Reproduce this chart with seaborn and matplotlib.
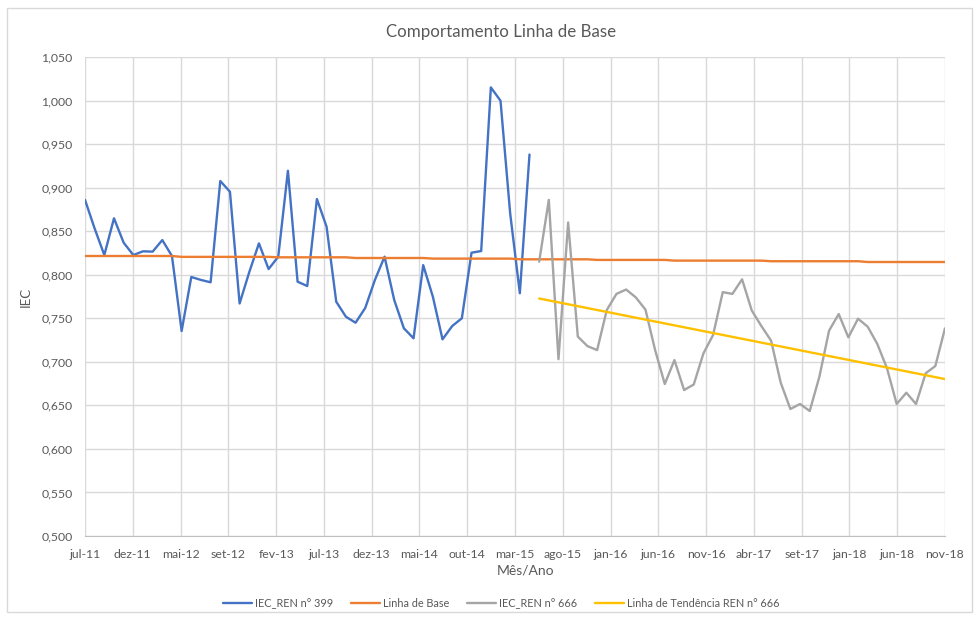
import numpy as np
import pandas as pd
import seaborn as sns
import matplotlib.pyplot as plt
from matplotlib.patches import Rectangle
from matplotlib.ticker import FuncFormatter

# Values (one value per month slot)
iec_399 = [0.886, 0.853, 0.8226, 0.8648, 0.8368, 0.8226, 0.8269, 0.8265, 0.8398, 0.8215,
           0.7354, 0.7974, 0.794, 0.7913, 0.9076, 0.8953, 0.767, 0.803, 0.836, 0.8065,
           0.8207, 0.9194, 0.792, 0.787, 0.8869, 0.8551, 0.769, 0.7518, 0.7449, 0.7618,
           0.7939, 0.8207, 0.771, 0.7385, 0.727, 0.811, 0.7748, 0.7258, 0.7411, 0.750,
           0.8253, 0.8272, 1.0151, 0.9998, 0.8705, 0.7787, 0.938]

iec_666 = [0.815, 0.886, 0.703, 0.860, 0.729, 0.718, 0.7135, 0.7595, 0.778, 0.783,
           0.774, 0.760, 0.7135, 0.6745, 0.702, 0.6676, 0.674, 0.7097, 0.7308, 0.780,
           0.778, 0.7947, 0.759, 0.741, 0.7243, 0.676, 0.6458, 0.6516, 0.6435, 0.6829,
           0.7357, 0.7549, 0.7281, 0.7495, 0.7403, 0.7204, 0.6925, 0.6516, 0.6645, 0.6516,
           0.6868, 0.6952, 0.7385]

linha_base = [0.8215, 0.8215, 0.8215, 0.8215, 0.8215, 0.8215, 0.8215, 0.8215, 0.8215, 0.8215,
              0.8205, 0.8205, 0.8205, 0.8205, 0.8205, 0.8205, 0.8205, 0.8205, 0.8205, 0.8205,
              0.8200, 0.8200, 0.8200, 0.8200, 0.8200, 0.8200, 0.8200, 0.8200, 0.8192, 0.8192,
              0.8192, 0.8192, 0.8192, 0.8192, 0.8192, 0.8192, 0.8185, 0.8185, 0.8185, 0.8185,
              0.8185, 0.8185, 0.8185, 0.8185, 0.8185, 0.8177, 0.8177, 0.8177, 0.8177, 0.8177,
              0.8177, 0.8177, 0.8177, 0.8170, 0.8170, 0.8170, 0.8170, 0.8170, 0.8170, 0.8170,
              0.8170, 0.8162, 0.8162, 0.8162, 0.8162, 0.8162, 0.8162, 0.8162, 0.8162, 0.8162,
              0.8162, 0.8155, 0.8155, 0.8155, 0.8155, 0.8155, 0.8155, 0.8155, 0.8155, 0.8155,
              0.8155, 0.8146, 0.8146, 0.8146, 0.8146, 0.8146, 0.8146, 0.8146, 0.8146, 0.8146]

tick_labels = ["jul-11", "dez-11", "mai-12", "set-12", "fev-13", "jul-13", "dez-13",
               "mai-14", "out-14", "mar-15", "ago-15", "jan-16", "jun-16", "nov-16",
               "abr-17", "set-17", "jan-18", "jun-18", "nov-18"]

# category positions
n = len(linha_base)
x_all = np.arange(n)
x_399 = x_all[:len(iec_399)]
x_666 = x_all[n - len(iec_666):]

# trend line of the REN 666 series (least squares, like Excel)
coef = np.polyfit(x_666, iec_666, 1)
tendencia = np.polyval(coef, x_666)

sns.set_style("white")
plt.rcParams['font.family'] = ['Lato', 'DejaVu Sans']

fig = plt.figure(figsize=(9.79, 6.19), dpi=100)
ax = fig.add_axes([85 / 979, 83 / 619, 860 / 979, 479 / 619])

lw = 1.7
sns.lineplot(x=x_399, y=iec_399, color="#4472C4", lw=lw, ax=ax, label="IEC_REN n° 399")
sns.lineplot(x=x_all, y=linha_base, color="#ED7D31", lw=lw, ax=ax, label="Linha de Base")
sns.lineplot(x=x_666, y=iec_666, color="#A5A5A5", lw=lw, ax=ax, label="IEC_REN n° 666")
sns.lineplot(x=x_666, y=tendencia, color="#FFC000", lw=lw, ax=ax,
             label="Linha de Tendência REN n° 666")

ax.set_xlim(0, n - 1)
ax.set_ylim(0.5, 1.05)
ax.set_xticks(np.linspace(0, n - 1, len(tick_labels)))
ax.set_xticklabels(tick_labels)
ax.set_yticks(np.arange(0.5, 1.0501, 0.05))
ax.yaxis.set_major_formatter(FuncFormatter(lambda v, p: f"{v:.3f}".replace(".", ",")))
ax.grid(True, color="#d9d9d9", lw=1)
ax.set_axisbelow(True)
for s in ["top", "right", "left"]:
    ax.spines[s].set_visible(False)
ax.spines["bottom"].set_color("#bfbfbf")
ax.tick_params(axis="both", length=0, labelsize=8.8, labelcolor="#595959", pad=9)

ax.set_xlabel("Mês/Ano", fontsize=10, color="#595959", labelpad=6)
ax.xaxis.set_label_coords(0.512, -0.06)
ax.set_ylabel("IEC", fontsize=9.5, color="#595959")
ax.yaxis.set_label_coords(-0.062, 0.5)

fig.suptitle("Comportamento Linha de Base", x=0.512, y=0.962, fontsize=12.2, color="#595959")

ax.get_legend().remove()
handles, labels = ax.get_legend_handles_labels()
fig.legend(handles, labels, loc="center", bbox_to_anchor=(0.512, 0.025), ncol=4,
           frameon=False, fontsize=7.8, handlelength=2.7, handletextpad=0.3,
           columnspacing=1.6, labelcolor="#595959")

fig.patches.append(Rectangle((7 / 979, 7 / 619), 965 / 979, 604 / 619, transform=fig.transFigure,
                             fill=False, edgecolor="#d9d9d9", lw=1))

plt.savefig("out.png", dpi=100)
